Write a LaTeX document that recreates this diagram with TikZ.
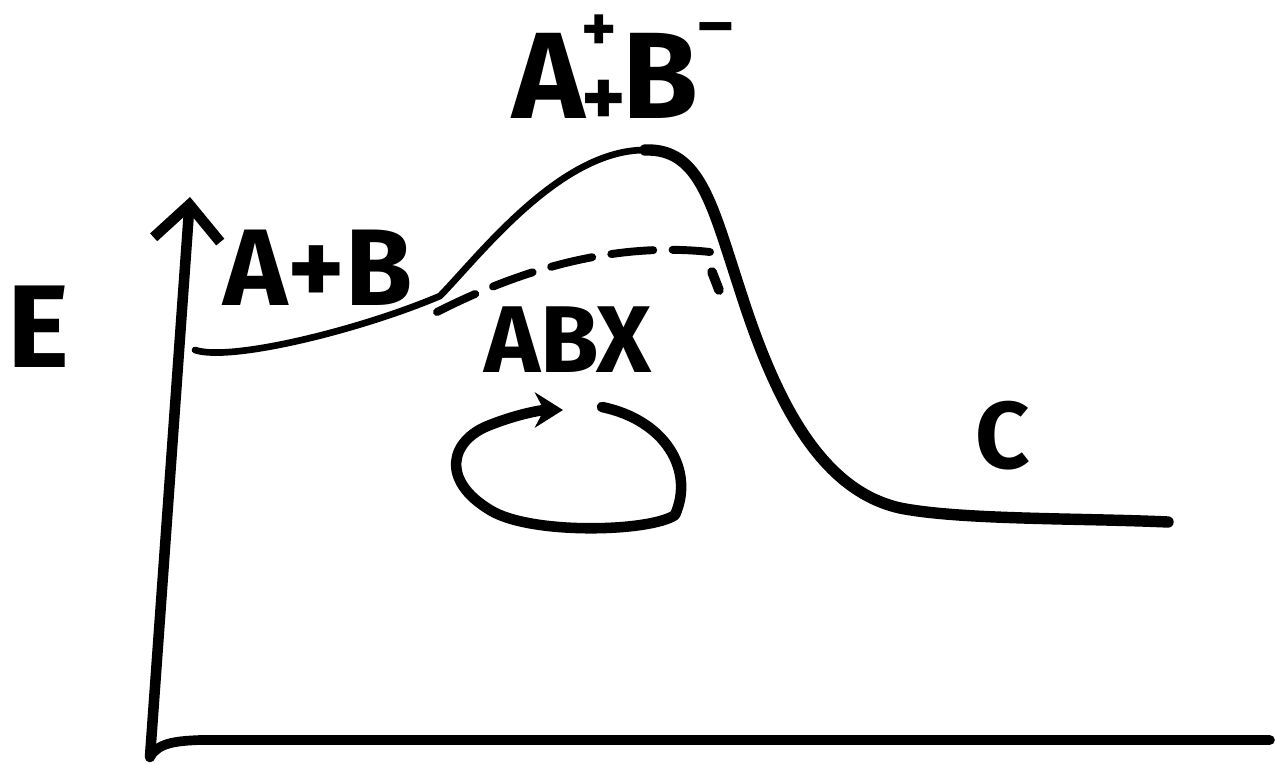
\documentclass[tikz,border=0pt]{standalone}
\usepackage{fontspec}
\setmainfont{Fira Sans}
\usetikzlibrary{arrows.meta, positioning}
\tikzset{
  every picture/.style={line cap=round, line join=round},
  ink/.style={draw=black, line width=#1},
  ink/.default=4pt,
  tag/.style={font=\fontsize{#1}{#1}\selectfont\bfseries, inner sep=0pt, anchor=base},
  tag/.default=60,
}
\newcommand{\charge}[3]{\raisebox{#1}{\fontsize{#2}{#2}\selectfont #3}}
\begin{document}
\begin{tikzpicture}[x=0.02cm, y=-0.02cm]
  \useasboundingbox[fill=white] (0,0) rectangle (1275,762);
  % axes
  \coordinate (o) at (150,757);
  \coordinate (ytop) at (190,197);
  \coordinate (xend) at (1270,740);
  \draw[ink=6pt, -{Straight Barb[length=20pt, width=38pt]}] (o) -- (ytop);
  \draw[ink=5.5pt] (o) .. controls (158,743) and (175,741) .. (200,740) -- (xend);
  % energy curve
  \coordinate (start) at (195,350);
  \coordinate (bend) at (440,296);
  \coordinate (peak) at (645,150);
  \coordinate (fall) at (740,290);
  \coordinate (foot) at (900,508);
  \coordinate (stop) at (1168,522);
  \draw[ink=3.8pt] (start) .. controls (230,362) and (360,330) .. (bend)
    .. controls (480,255) and (560,150) .. (peak);
  \draw[ink=6.5pt] (peak) .. controls (700,148) and (712,205) .. (fall)
    .. controls (775,400) and (820,490) .. (foot)
    .. controls (960,520) and (1080,518) .. (stop);
  % lowered barrier
  \coordinate (d0) at (437,312);
  \coordinate (d1) at (710,252);
  \draw[ink=4.5pt, dash pattern=on 24pt off 11pt] (d0) .. controls (500,280) and (600,240) .. (d1);
  \draw[ink=5.5pt] (712,272) -- (719,290);
  % cycle
  \coordinate (c0) at (602,407);
  \coordinate (c1) at (563,410);
  \draw[ink=6pt, -{Stealth[length=16pt, width=20pt]}] (c0) .. controls (665,420) and (695,470) .. (675,515)
    .. controls (650,532) and (530,535) .. (490,510)
    .. controls (440,480) and (450,440) .. (490,425)
    .. controls (515,415) and (540,410) .. (c1);
  % labels
  \node[tag=67] (e) at (38,367) {E};
  \node[tag=62] (ab) at (318,305) {A+B};
  \node[tag=70, anchor=base west] (ion) at (512,118)
    {A\kern-2pt\charge{38pt}{38}{+}\kern-20pt\charge{-5pt}{48}{+}\kern-2ptB\charge{40pt}{38}{–}};
  \node[tag=54] (abx) at (568,372) {ABX};
  \node[tag=54] (c) at (1003,468) {C};
\end{tikzpicture}
\end{document}
